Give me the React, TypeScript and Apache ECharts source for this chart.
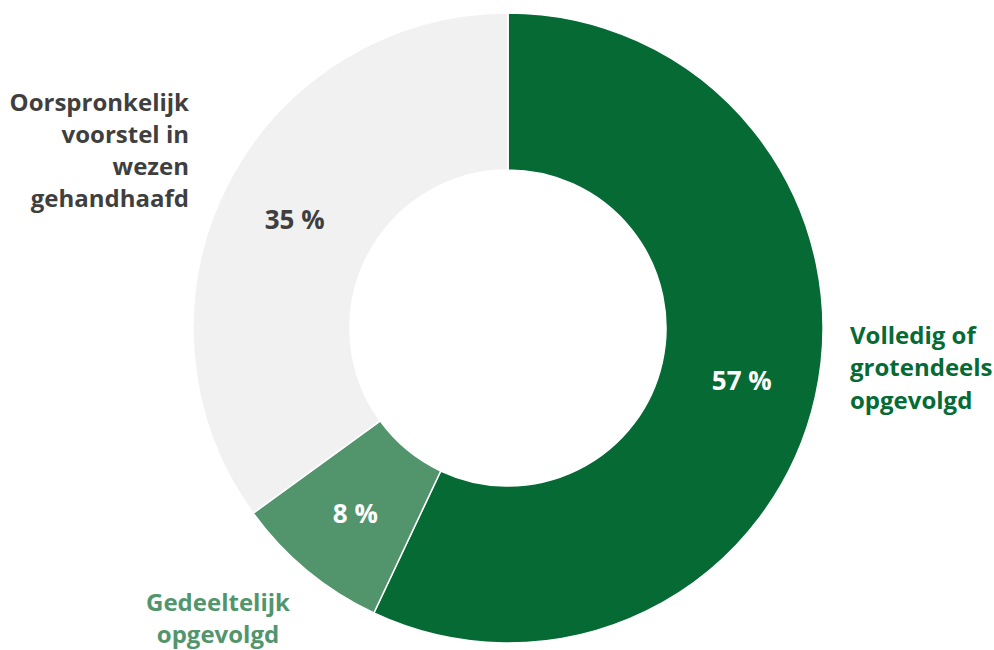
import React, { useEffect, useRef } from "react";
import * as echarts from "echarts";

const categories = ["Volledig of grotendeels opgevolgd", "Gedeeltelijk opgevolgd", "Oorspronkelijk voorstel in wezen gehandhaafd"];
const values = [57, 8, 35];
const colors = ["#066a35", "#52956d", "#f1f1f1"];
const innerLabelColors = ["#ffffff", "#ffffff", "#3f3f3f"];
const outerLabelLines = [
  ["Volledig of", "grotendeels", "opgevolgd"],
  ["Gedeeltelijk", "opgevolgd"],
  ["Oorspronkelijk", "voorstel in", "wezen", "gehandhaafd"],
];
const outerLabelColors = ["#066a35", "#52956d", "#3f3f3f"];

const FONT = "'Open Sans', 'Noto Sans', sans-serif";

export default function App() {
  const ref = useRef<HTMLDivElement>(null);
  useEffect(() => {
    if (!ref.current) return;
    const chart = echarts.init(ref.current, null, { renderer: "svg" });
    chart.setOption({
      animation: false,
      backgroundColor: "#ffffff",
      series: [
        {
          type: "pie",
          center: [508, 328],
          radius: [158, 315],
          startAngle: 90,
          clockwise: true,
          silent: true,
          itemStyle: { borderColor: "#ffffff", borderWidth: 1.5 },
          label: {
            show: true,
            position: "inside",
            formatter: (p: any) => `${p.value} %`,
            fontFamily: FONT,
            fontWeight: "bold",
            fontSize: 26,
          },
          labelLine: { show: false },
          data: categories.map((name, i) => ({
            name,
            value: values[i],
            itemStyle: { color: colors[i] },
            label: { color: innerLabelColors[i] },
          })),
        },
      ],
      graphic: [
        {
          type: "text",
          x: 850,
          y: 318,
          style: {
            text: outerLabelLines[0].join("\n"),
            fill: outerLabelColors[0],
            font: `bold 24px ${FONT}`,
            lineHeight: 32.5,
            textAlign: "left",
          },
        },
        {
          type: "text",
          x: 218,
          y: 586,
          style: {
            text: outerLabelLines[1].join("\n"),
            fill: outerLabelColors[1],
            font: `bold 24px ${FONT}`,
            lineHeight: 31.5,
            textAlign: "center",
          },
        },
        {
          type: "text",
          x: 189,
          y: 85,
          style: {
            text: outerLabelLines[2].join("\n"),
            fill: outerLabelColors[2],
            font: `bold 24px ${FONT}`,
            lineHeight: 32.2,
            textAlign: "right",
          },
        },
      ],
    });
    return () => chart.dispose();
  }, []);
  return (
    <div
      ref={ref}
      style={{ position: "absolute", left: 0, top: 0, width: 994, height: 650 }}
    />
  );
}
